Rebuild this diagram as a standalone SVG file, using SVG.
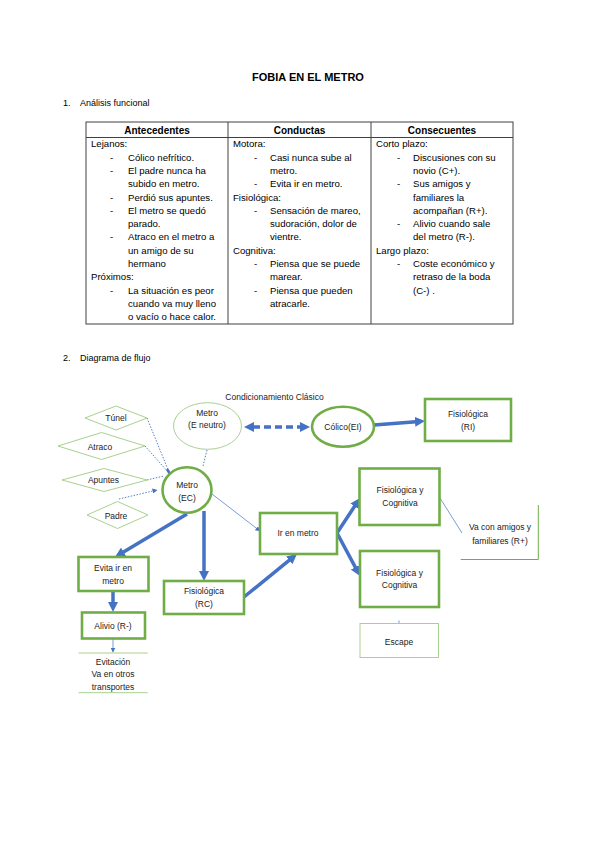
<svg xmlns="http://www.w3.org/2000/svg" width="599" height="848" viewBox="0 0 599 848">
<style>
.t{font-family:"Liberation Sans",Arial,sans-serif;fill:#000}
.title{font-size:11px;font-weight:bold}
.h{font-size:9px}
.th{font-size:10px;font-weight:bold}
.tb{font-size:9.6px}
.d{font-size:8.5px;font-family:"Liberation Sans",Arial,sans-serif;fill:#222}
.grid{stroke:#404040;stroke-width:1;fill:none}
.gthick{fill:#fff;stroke:#70AD47;stroke-width:2.6}
.gthin{fill:#fff;stroke:#A9D18E;stroke-width:1}
.thick{stroke:#4472C4;stroke-width:3.5;fill:none}
.dot{stroke:#4472C4;stroke-width:0.9;stroke-dasharray:1.5 1.5;fill:none}
.thin{stroke:#4472C4;stroke-width:0.7;fill:none}
</style>
<defs>
<marker id="ah" viewBox="0 0 10 10" refX="1" refY="5" markerWidth="10" markerHeight="10" markerUnits="userSpaceOnUse" orient="auto-start-reverse"><path d="M0,0 L10,5 L0,10 z" fill="#4472C4"/></marker>
<marker id="ahs" viewBox="0 0 10 10" refX="9" refY="5" markerWidth="5" markerHeight="5" markerUnits="userSpaceOnUse" orient="auto"><path d="M0,0 L10,5 L0,10 z" fill="#4472C4"/></marker>
</defs>
<rect width="599" height="848" fill="#fff"/>

<text class="t title" x="308" y="81" text-anchor="middle">FOBIA EN EL METRO</text>
<text class="t h" x="63" y="106">1.</text>
<text class="t h" x="80" y="106">Análisis funcional</text>

<g id="table">
<rect class="grid" x="86" y="122" width="427" height="202"/>
<line class="grid" x1="86" y1="137.5" x2="513" y2="137.5"/>
<line class="grid" x1="228" y1="122" x2="228" y2="324"/>
<line class="grid" x1="371" y1="122" x2="371" y2="324"/>
<text class="t th" x="157" y="134" text-anchor="middle">Antecedentes</text>
<text class="t th" x="299.5" y="134" text-anchor="middle">Conductas</text>
<text class="t th" x="442" y="134" text-anchor="middle">Consecuentes</text>
<g class="t tb">
<text x="91" y="147.3">Lejanos:</text>
<text x="110" y="160.6">-</text><text x="128" y="160.6">Cólico nefrítico.</text>
<text x="110" y="173.9">-</text><text x="128" y="173.9">El padre nunca ha</text>
<text x="128" y="187.2">subido en metro.</text>
<text x="110" y="200.5">-</text><text x="128" y="200.5">Perdió sus apuntes.</text>
<text x="110" y="213.8">-</text><text x="128" y="213.8">El metro se quedó</text>
<text x="128" y="227.1">parado.</text>
<text x="110" y="240.4">-</text><text x="128" y="240.4">Atraco en el metro a</text>
<text x="128" y="253.7">un amigo de su</text>
<text x="128" y="267">hermano</text>
<text x="91" y="280.3">Próximos:</text>
<text x="110" y="293.6">-</text><text x="128" y="293.6">La situación es peor</text>
<text x="128" y="306.9">cuando va muy lleno</text>
<text x="128" y="320.2">o vacío o hace calor.</text>

<text x="233" y="147.3">Motora:</text>
<text x="254" y="160.6">-</text><text x="270" y="160.6">Casi nunca sube al</text>
<text x="270" y="173.9">metro.</text>
<text x="254" y="187.2">-</text><text x="270" y="187.2">Evita ir en metro.</text>
<text x="233" y="200.5">Fisiológica:</text>
<text x="254" y="213.8">-</text><text x="270" y="213.8">Sensación de mareo,</text>
<text x="270" y="227.1">sudoración, dolor de</text>
<text x="270" y="240.4">vientre.</text>
<text x="233" y="253.7">Cognitiva:</text>
<text x="254" y="267">-</text><text x="270" y="267">Piensa que se puede</text>
<text x="270" y="280.3">marear.</text>
<text x="254" y="293.6">-</text><text x="270" y="293.6">Piensa que pueden</text>
<text x="270" y="306.9">atracarle.</text>

<text x="376" y="147.3">Corto plazo:</text>
<text x="397" y="160.6">-</text><text x="413" y="160.6">Discusiones con su</text>
<text x="413" y="173.9">novio (C+).</text>
<text x="397" y="187.2">-</text><text x="413" y="187.2">Sus amigos y</text>
<text x="413" y="200.5">familiares la</text>
<text x="413" y="213.8">acompañan (R+).</text>
<text x="397" y="227.1">-</text><text x="413" y="227.1">Alivio cuando sale</text>
<text x="413" y="240.4">del metro (R-).</text>
<text x="376" y="253.7">Largo plazo:</text>
<text x="397" y="267">-</text><text x="413" y="267">Coste económico y</text>
<text x="413" y="280.3">retraso de la boda</text>
<text x="413" y="293.6">(C-) .</text>
</g>
</g>

<text class="t h" x="63" y="361">2.</text>
<text class="t h" x="80" y="361">Diagrama de flujo</text>

<text class="d" x="274.5" y="400" text-anchor="middle" font-size="9">Condicionamiento Clásico</text>

<g id="connectors">
<line class="dot" x1="147" y1="418" x2="169" y2="472"/>
<line class="dot" x1="145" y1="446" x2="168" y2="472"/>
<line class="dot" x1="147" y1="480" x2="164" y2="476"/>
<line class="dot" x1="119" y1="499" x2="157" y2="490" marker-end="url(#ahs)"/>
<line class="dot" x1="207" y1="450" x2="203" y2="466"/>
<line stroke="#4472C4" stroke-width="2.5" x1="167" y1="469" x2="170" y2="474"/>
<line class="thin" x1="212" y1="494" x2="260" y2="531" marker-end="url(#ahs)"/>
<line class="thick" x1="253" y1="427" x2="301" y2="427" stroke-dasharray="7 4" marker-start="url(#ah)" marker-end="url(#ah)"/>
<line class="thick" stroke-width="2.5" x1="374" y1="425" x2="416" y2="421.7" marker-end="url(#ah)"/>
<line class="thick" x1="187" y1="514" x2="122.7" y2="552.4" marker-end="url(#ah)"/>
<line class="thick" x1="204" y1="511" x2="204" y2="572" marker-end="url(#ah)"/>
<line class="thick" x1="113" y1="591" x2="113" y2="603" marker-end="url(#ah)"/>
<line class="thin" x1="113" y1="638" x2="113" y2="652" marker-end="url(#ahs)"/>
<line class="thick" x1="244" y1="597" x2="290" y2="559.7" marker-end="url(#ah)"/>
<line class="thick" x1="337" y1="533" x2="355.1" y2="505.5" marker-end="url(#ah)"/>
<line class="thick" x1="337" y1="533" x2="355.8" y2="568.1" marker-end="url(#ah)"/>
<line class="thin" x1="440" y1="498" x2="462" y2="533"/>
<line class="thin" stroke-width="1" x1="399" y1="620.5" x2="399" y2="623"/>
</g>

<g id="tunel"><polygon class="gthin" points="85,418 116,406 147,418 116,430"/><text class="d" x="116" y="421" text-anchor="middle">Túnel</text></g>
<g id="atraco"><polygon class="gthin" points="58,446 101.5,432.5 145,446 101.5,459.5"/><text class="d" x="100" y="449.5" text-anchor="middle">Atraco</text></g>
<g id="apuntes"><polygon class="gthin" points="62,480 104,468.5 147,480 104,491.5"/><text class="d" x="103.5" y="483" text-anchor="middle">Apuntes</text></g>
<g id="padre"><polygon class="gthin" points="87,515 117.5,501.5 148,515 117.5,528.5"/><text class="d" x="116" y="519" text-anchor="middle">Padre</text></g>

<g id="metro-neutro"><ellipse class="gthin" cx="207.5" cy="426" rx="34" ry="23.3"/><text class="d" x="207" y="416" text-anchor="middle">Metro</text><text class="d" x="207" y="428" text-anchor="middle">(E neutro)</text></g>
<g id="metro-ec"><ellipse class="gthick" cx="187" cy="490" rx="24.5" ry="22.7"/><text class="d" x="187" y="488" text-anchor="middle">Metro</text><text class="d" x="187" y="501" text-anchor="middle">(EC)</text></g>
<g id="colico"><ellipse class="gthick" cx="343" cy="426.7" rx="31" ry="20"/><text class="d" x="343" y="430" text-anchor="middle">Cólico(EI)</text></g>
<g id="fisio-ri"><rect class="gthick" x="425" y="399" width="86" height="42"/><text class="d" x="468" y="417" text-anchor="middle">Fisiológica</text><text class="d" x="468" y="430" text-anchor="middle">(RI)</text></g>
<g id="ir-metro"><rect class="gthick" x="260" y="513" width="77" height="41" stroke-width="2.2"/><text class="d" x="298" y="536" text-anchor="middle">Ir en metro</text></g>
<g id="fyc1"><rect class="gthick" x="359.5" y="468.5" width="80" height="56.5"/><text class="d" x="400" y="493" text-anchor="middle">Fisiológica y</text><text class="d" x="400" y="506" text-anchor="middle">Cognitiva</text></g>
<g id="fyc2"><rect class="gthick" x="360" y="551" width="79" height="56"/><text class="d" x="399.5" y="575.5" text-anchor="middle">Fisiológica y</text><text class="d" x="399.5" y="588" text-anchor="middle">Cognitiva</text></g>
<g id="escape"><rect class="gthin" x="360" y="623.5" width="78.5" height="34"/><text class="d" x="399" y="644.5" text-anchor="middle">Escape</text></g>
<g id="va-con"><polyline fill="none" stroke="#70AD47" stroke-width="1" points="538.3,505 538.3,559.5 460.7,559.5"/><text class="d" x="500" y="530" text-anchor="middle">Va con amigos y</text><text class="d" x="500" y="544" text-anchor="middle">familiares (R+)</text></g>
<g id="evita"><rect class="gthick" x="78.5" y="557" width="70" height="34"/><text class="d" x="113" y="571" text-anchor="middle">Evita ir en</text><text class="d" x="113" y="584" text-anchor="middle">metro</text></g>
<g id="alivio"><rect class="gthick" x="82" y="612.5" width="63" height="26"/><text class="d" x="113" y="629" text-anchor="middle">Alivio (R-)</text></g>
<g id="fisio-rc"><rect class="gthick" x="164" y="581" width="80" height="33"/><text class="d" x="204" y="593.5" text-anchor="middle">Fisiológica</text><text class="d" x="204" y="607" text-anchor="middle">(RC)</text></g>
<g id="evitacion"><line stroke="#A9D18E" stroke-width="1" x1="78.5" y1="653" x2="147.7" y2="653"/><line stroke="#A9D18E" stroke-width="1" x1="78.5" y1="692.7" x2="147.7" y2="692.7"/><text class="d" x="113" y="664.5" text-anchor="middle">Evitación</text><text class="d" x="113" y="677" text-anchor="middle">Va en otros</text><text class="d" x="113" y="689.5" text-anchor="middle">transportes</text></g>
</svg>
